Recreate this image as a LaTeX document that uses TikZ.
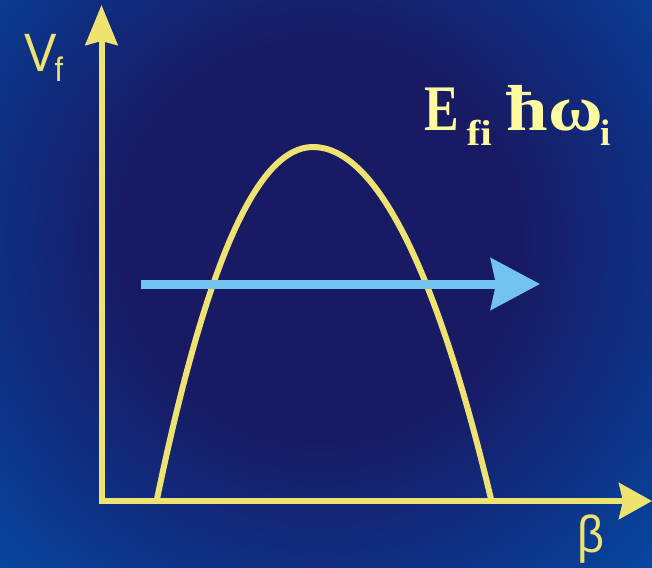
\documentclass[tikz,border=0pt]{standalone}
\usepackage{fontspec}
\setmainfont{Liberation Serif}
\newfontfamily\sansletra{Liberation Sans}
\usetikzlibrary{arrows.meta}

\definecolor{fondoA}{RGB}{24,27,100}
\definecolor{fondoB}{RGB}{16,44,126}
\definecolor{fondoC}{RGB}{6,72,160}
\definecolor{amarillo}{RGB}{238,226,112}
\definecolor{amarilloclaro}{RGB}{255,250,160}
\definecolor{celeste}{RGB}{115,195,240}

\pgfdeclareradialshading{fondo}{\pgfpointorigin}{color(0bp)=(fondoA); color(9bp)=(fondoA); color(14bp)=(fondoB); color(21bp)=(fondoC); color(50bp)=(fondoC)}

\begin{document}
\begin{tikzpicture}[
        x=1pt,
        y=-1pt,
        every node/.style={
            inner sep=0pt,
            outer sep=0pt,
            text=amarillo
        },
        eje/.style={draw=amarillo, line width=6pt},
        curva/.style={draw=amarillo, line width=6pt},
        flecha/.style={draw=celeste, line width=9pt}
    ]

    % Fondo
    \useasboundingbox (0,0) rectangle (652,567);
    \begin{scope}
        \clip (0,0) rectangle (652,567);
        \fill[fondoC] (0,0) rectangle (652,567);
        \shade[shading=fondo] (320,240) circle[radius=560];
    \end{scope}

    % Puntos de los ejes
    \coordinate (origen) at (101.5,501);
    \coordinate (yfin)   at (101.5,5);
    \coordinate (xfin)   at (652,501);

    % Puntos de la curva
    \coordinate (izq)  at (157,499);
    \coordinate (cima) at (313,147);
    \coordinate (der)  at (491,499);

    % Puntos de la flecha
    \coordinate (ini) at (141,284);
    \coordinate (fin) at (540,284);

    % Curva
    \draw[curva] (izq) .. controls +(50,-240) and +(-55,0) .. (cima)
                       .. controls +(60,0) and +(-57,-240) .. (der);

    % Ejes
    \draw[eje, {Stealth[length=40pt,width=32pt,inset=4pt]}-{Stealth[length=33pt,width=36pt,inset=4pt]}]
        (yfin) -- (origen) -- (xfin);

    % Flecha
    \draw[flecha, -{Stealth[length=49pt,width=51pt,inset=5pt]}] (ini) -- (fin);

    % Textos
    \node[anchor=base west, xscale=0.9] (vf) at (24,72)
        {\sansletra\fontsize{54}{54}\selectfont V\kern-2pt\raisebox{-10pt}{\fontsize{34}{34}\selectfont f}};
    \node[anchor=base west, xscale=0.9] (beta) at (577,552)
        {\sansletra\fontsize{52}{52}\selectfont β};
    \node[anchor=base west, text=amarilloclaro] (energia) at (424,130)
        {\bfseries\fontsize{65}{65}\selectfont \scalebox{0.8}[1]{E}\kern8pt\raisebox{-15pt}{\fontsize{36}{36}\selectfont\scalebox{1.15}[1]{fi}}\hspace{15pt}\scalebox{1.15}[1]{ħω}\kern-3pt\raisebox{-15pt}{\fontsize{37}{37}\selectfont i}};

\end{tikzpicture}
\end{document}
